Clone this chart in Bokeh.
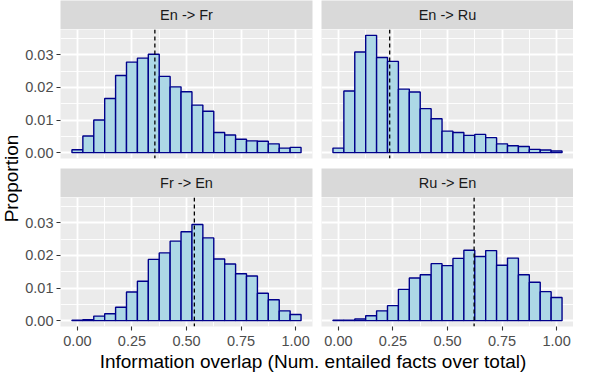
import math
from bokeh.plotting import figure
from bokeh.layouts import row, column
from bokeh.models import FixedTicker, Span, ColumnDataSource, Range1d
from bokeh.embed import file_html
from bokeh.resources import INLINE
from bokeh.core.properties import value

# ---------------- data ----------------
bin_centers = [0.00, 0.05, 0.10, 0.15, 0.20, 0.25, 0.30, 0.35, 0.40, 0.45, 0.50,
               0.55, 0.60, 0.65, 0.70, 0.75, 0.80, 0.85, 0.90, 0.95, 1.00]
bin_width = 0.05

panel_titles = ["En -> Fr", "En -> Ru", "Fr -> En", "Ru -> En"]

en_fr = [0.0009, 0.0051, 0.0100, 0.0166, 0.0237, 0.0278, 0.0290, 0.0302, 0.0234, 0.0202, 0.0187,
         0.0146, 0.0127, 0.0062, 0.0054, 0.0041, 0.0036, 0.0035, 0.0027, 0.0014, 0.0016]
en_ru = [0.0014, 0.0189, 0.0309, 0.0360, 0.0292, 0.0280, 0.0195, 0.0186, 0.0135, 0.0104, 0.0066,
         0.0062, 0.0053, 0.0056, 0.0046, 0.0027, 0.0021, 0.0019, 0.0010, 0.0008, 0.0005]
fr_en = [0.0001, 0.0003, 0.0014, 0.0021, 0.0041, 0.0088, 0.0121, 0.0188, 0.0208, 0.0244, 0.0273,
         0.0295, 0.0254, 0.0189, 0.0174, 0.0144, 0.0137, 0.0084, 0.0064, 0.0030, 0.0019]
ru_en = [0.0001, 0.0001, 0.0005, 0.0015, 0.0030, 0.0046, 0.0096, 0.0131, 0.0141, 0.0175, 0.0169,
         0.0191, 0.0216, 0.0197, 0.0215, 0.0170, 0.0192, 0.0141, 0.0118, 0.0089, 0.0071]
panel_values = [en_fr, en_ru, fr_en, ru_en]

mean_overlap = [0.355, 0.235, 0.536, 0.622]

x_ticks = [0.0, 0.25, 0.5, 0.75, 1.0]
x_tick_labels = ["0.00", "0.25", "0.50", "0.75", "1.00"]
x_minor = [0.125, 0.375, 0.625, 0.875]
y_ticks = [0.0, 0.01, 0.02, 0.03]
y_tick_labels = ["0.00", "0.01", "0.02", "0.03"]
y_minor = [0.005, 0.015, 0.025, 0.035]

x_title = "Information overlap (Num. entailed facts over total)"
y_title = "Proportion"

# ---------------- style ----------------
FONT = "Liberation Sans"
PW, PH = 252, 129      # panel frame size
SH = 29                # strip height
LB = 38                # left border (y tick labels)
GAP = 9                # horizontal gap between panels
VGAP = 10              # vertical gap between rows
BB = 24                # bottom border (x tick labels)
XT = 22                # x title height
YT = 22                # y title width
TOTAL_H = 2 * (SH + PH) + VGAP + BB + XT

x_lo = min(bin_centers) - bin_width / 2
x_hi = max(bin_centers) + bin_width / 2
x_pad = (x_hi - x_lo) * 0.05
y_max = max(max(v) for v in panel_values)
y_pad = y_max * 0.05


def make_panel(i, left, bottom):
    p = figure(frame_width=PW, frame_height=PH,
               x_range=Range1d(x_lo - x_pad, x_hi + x_pad),
               y_range=Range1d(-y_pad, y_max + y_pad),
               output_backend="svg", toolbar_location=None,
               x_axis_location="below" if bottom else None,
               y_axis_location="left" if left else None,
               min_border_left=LB if left else 0,
               min_border_right=GAP if left else 0,
               min_border_top=0,
               min_border_bottom=BB if bottom else VGAP,
               background_fill_color="#EBEBEB", border_fill_color="white",
               outline_line_color=None)
    xt = FixedTicker(ticks=x_ticks, minor_ticks=x_minor)
    yt = FixedTicker(ticks=y_ticks, minor_ticks=y_minor)
    p.xgrid.ticker = xt
    p.ygrid.ticker = yt
    for g in (p.xgrid[0], p.ygrid[0]):
        g.grid_line_color = "white"
        g.grid_line_width = 1.8
        g.minor_grid_line_color = "white"
        g.minor_grid_line_width = 0.9
    if bottom:
        ax = p.xaxis[0]
        ax.ticker = xt
        ax.major_label_overrides = dict(zip(x_ticks, x_tick_labels))
        ax.major_label_standoff = 5
    if left:
        ay = p.yaxis[0]
        ay.ticker = yt
        ay.major_label_overrides = dict(zip(y_ticks, y_tick_labels))
        ay.major_label_standoff = 3
    for ax in p.axis:
        ax.axis_line_color = None
        ax.major_tick_line_color = "#333333"
        ax.major_tick_line_width = 1.1
        ax.major_tick_out = 4
        ax.major_tick_in = 0
        ax.minor_tick_line_color = None
        ax.major_label_text_color = "#4D4D4D"
        ax.major_label_text_font = FONT
        ax.major_label_text_font_size = "14.5px"

    vals = panel_values[i]
    src = ColumnDataSource(dict(
        left=[c - bin_width / 2 for c in bin_centers],
        right=[c + bin_width / 2 for c in bin_centers],
        top=vals,
        bottom=[0.0] * len(vals),
    ))
    p.quad(left="left", right="right", top="top", bottom="bottom", source=src,
           fill_color="#ADD8E6", line_color="#00008B", line_width=1.4)
    p.add_layout(Span(location=mean_overlap[i], dimension="height",
                      line_color="black", line_width=1.3, line_dash="4 3"))
    return p


def make_strip(i, left):
    s = figure(frame_width=PW, frame_height=SH, x_range=(0, 1), y_range=(0, 1),
               output_backend="svg", toolbar_location=None,
               x_axis_location=None, y_axis_location=None,
               min_border_left=LB if left else 0,
               min_border_right=GAP if left else 0,
               min_border_top=0, min_border_bottom=0,
               background_fill_color="#D9D9D9", border_fill_color="white",
               outline_line_color=None)
    s.grid.visible = False
    s.text(x=[0.5], y=[0.5], text=[panel_titles[i]], text_align="center",
           text_baseline="middle", text_font=value(FONT), text_font_size="14.5px",
           text_color="#1A1A1A")
    return s


strips = [make_strip(0, True), make_strip(1, False), make_strip(2, True), make_strip(3, False)]
panels = [make_panel(0, True, False), make_panel(1, False, False),
          make_panel(2, True, True), make_panel(3, False, True)]

# x axis title
xw = LB + PW + GAP + PW
xf = figure(width=xw, height=XT, x_range=(0, 1), y_range=(0, 1),
            output_backend="svg", toolbar_location=None,
            x_axis_location=None, y_axis_location=None,
            min_border=0, outline_line_color=None, background_fill_color="white",
            border_fill_color="white")
xf.grid.visible = False
xf.text(x=[(LB + PW + GAP / 2 - 4) / xw], y=[0.5], text=[x_title], text_align="center",
        text_baseline="middle", text_font=value(FONT), text_font_size="19px",
        text_color="black")

# y axis title
yf = figure(width=YT, height=TOTAL_H, x_range=(0, 1), y_range=(0, 1),
            output_backend="svg", toolbar_location=None,
            x_axis_location=None, y_axis_location=None,
            min_border=0, outline_line_color=None, background_fill_color="white",
            border_fill_color="white")
yf.grid.visible = False
yf.text(x=[0.5], y=[1 - 178 / TOTAL_H], text=[y_title], text_align="center",
        text_baseline="middle", angle=math.pi / 2, text_font=value(FONT),
        text_font_size="19px", text_color="black")

right_col = column(row(strips[0], strips[1]), row(panels[0], panels[1]),
                   row(strips[2], strips[3]), row(panels[2], panels[3]), xf, spacing=0)
layout = row(yf, right_col, spacing=0)

open("out.html", "w").write(file_html(layout, INLINE))
